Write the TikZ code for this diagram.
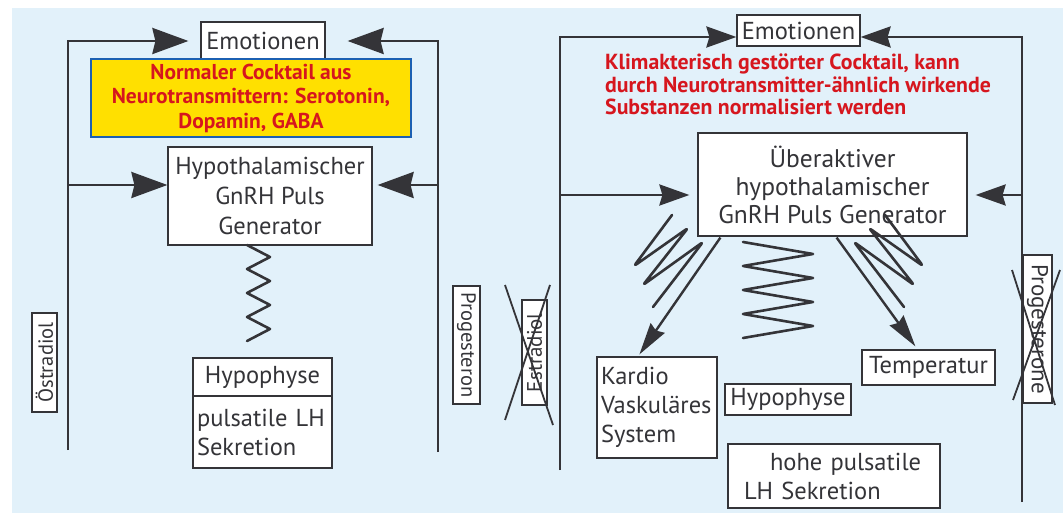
\documentclass[tikz,border=0pt]{standalone}
\usepackage{fontspec}
\setmainfont{PT Sans}
\usetikzlibrary{arrows.meta}

\definecolor{hintergrund}{RGB}{226,241,250}
\definecolor{linie}{RGB}{52,52,56}
\definecolor{rot}{RGB}{214,22,30}
\definecolor{gelb}{RGB}{255,224,0}
\definecolor{blau}{RGB}{28,96,178}

\tikzset{
	kasten/.style={draw=linie, fill=white, line width=1.2pt, text=linie, inner sep=0pt,
		font=\fontsize{24.5}{29}\selectfont},
	senk/.style={font=\fontsize{20.5}{20.5}\selectfont},
	rueck/.style={draw=linie, line width=2.8pt},
	pfeil/.style={rueck, -{Stealth[length=36pt,width=26pt,inset=3pt]}},
	pfeilR/.style={rueck, -{Stealth[length=30pt,width=21pt,inset=3pt]}},
	schraeg/.style={draw=linie, line width=2.4pt, -{Stealth[length=32pt,width=17pt,inset=3pt]}},
	feder/.style={draw=linie, line width=2.6pt, line join=round, line cap=round},
	kreuz/.style={draw=linie, line width=1.8pt},
	hinweis/.style={text=rot, inner sep=0pt, font=\bfseries\fontsize{21.8}{22.5}\selectfont}
}

\begin{document}
\begin{tikzpicture}[x=1pt, y=-1pt]
\useasboundingbox (0,0) rectangle (1063,518);
\fill[hintergrund] (12,8) rectangle (1063,513);

%% linkes Schema: normal %%
\node[kasten, minimum width=124pt, minimum height=38pt] (emoL) at (263,41) {Emotionen};
\node[draw=blau, fill=gelb, line width=2.5pt, minimum width=320pt, minimum height=78pt,
	inner sep=0pt, align=center, text=rot, font=\bfseries\fontsize{21.5}{24.5}\selectfont]
	(cocktailL) at (251,98) {Normaler Cocktail aus\\Neurotransmittern: Serotonin,\\Dopamin, GABA};
\node[kasten, minimum width=204pt, minimum height=98pt, align=center,
	font=\fontsize{24.5}{30}\selectfont] (hypoL) at (270,196)
	{Hypothalamischer\\GnRH Puls\\Generator};
\node[kasten, minimum width=139pt, minimum height=38pt] (hypophL) at (262.5,377) {Hypophyse};
\node[kasten, minimum width=139pt, minimum height=72pt, text width=131pt, align=left]
	(lhL) at (262.5,432) {pulsatile LH\\Sekretion};
\node[kasten, senk, rotate=90, minimum width=99pt, minimum height=25pt] (oestr) at (44.5,362.5) {Östradiol};
\node[kasten, senk, rotate=-90, minimum width=118pt, minimum height=27pt] (progL) at (466.5,345) {Progesteron};

\coordinate (oestrUnten) at (68,450);
\coordinate (oestrOben) at (68,41);
\coordinate (oestrMitte) at (68,185);
\coordinate (progLUnten) at (438,452);
\coordinate (progLOben) at (438,41);
\coordinate (progLMitte) at (438,185);
\draw[pfeil, shorten >=12pt] (oestrUnten) -- (oestrOben) -- (oestrOben -| emoL.west);
\draw[pfeil, shorten >=22pt] (progLUnten) -- (progLOben) -- (progLOben -| emoL.east);
\draw[pfeil] (oestrMitte) -- (oestrMitte -| hypoL.west);
\draw[pfeil, shorten >=5pt] (progLMitte) -- (progLMitte -| hypoL.east);

% Puls
\draw[feder] (247,245) \foreach \i in {1,...,4} { -- ++(23,12) -- ++(-23,12) };

%% rechtes Schema: Klimakterium %%
\node[kasten, minimum width=123pt, minimum height=31pt] (emoR) at (798.5,30.5) {Emotionen};
\node[hinweis, anchor=north west, align=left] (cocktailR) at (605,54)
	{Klimakterisch gestörter Cocktail, kann\\durch Neurotransmitter-ähnlich wirkende\\Substanzen normalisiert werden};
\node[kasten, minimum width=269pt, minimum height=103pt, align=center,
	font=\fontsize{25.5}{28}\selectfont] (ueberR) at (832.5,184.5)
	{Überaktiver\\hypothalamischer\\GnRH Puls Generator};
\node[kasten, minimum width=120pt, minimum height=101pt, text width=112pt, align=left]
	(kardio) at (657,407.5) {Kardio\\Vaskuläres\\System};
\node[kasten, minimum width=126pt, minimum height=31pt] (hypophR) at (788,399.5) {Hypophyse};
\node[kasten, minimum width=133pt, minimum height=35pt] (temp) at (928.5,367.5) {Temperatur};
\node[kasten, minimum width=212pt, minimum height=64pt, text width=180pt, align=left]
	(hohe) at (834,476) {\hspace*{26pt}hohe pulsatile\\LH Sekretion};
\node[kasten, rotate=90, minimum width=105pt, minimum height=25pt,
	font=\fontsize{21}{21}\selectfont] (estr) at (534.5,352.5) {Estradiol};
\node[kasten, rotate=-90, minimum width=148pt, minimum height=29pt,
	font=\fontsize{23}{23}\selectfont] (progR) at (1037.5,329) {Progesterone};

\coordinate (estrUnten) at (560,470);
\coordinate (estrOben) at (560,37);
\coordinate (estrMitte) at (560,195);
\coordinate (progRUnten) at (1022,502);
\coordinate (progROben) at (1022,37);
\coordinate (progRMitte) at (1022,195);
\draw[pfeilR] (estrUnten) -- (estrOben) -- (estrOben -| emoR.west);
\draw[pfeilR] (progRUnten) -- (progROben) -- (progROben -| emoR.east);
\draw[pfeilR, shorten >=8pt] (estrMitte) -- (estrMitte -| ueberR.west);
\draw[pfeilR, shorten >=8pt] (progRMitte) -- (progRMitte -| ueberR.east);

\draw[schraeg] ([xshift=23pt,yshift=-1pt]ueberR.south west) -- ([xshift=43pt,yshift=2pt]kardio.north west);
\draw[schraeg] ([xshift=-131pt,yshift=-1pt]ueberR.south east) -- ([xshift=54pt,yshift=3pt]temp.north west);

% Pulse
\draw[feder] (743,242) \foreach \i in {1,...,4} { -- ++(70,12) -- ++(-70,12) };
\draw[feder, rounded corners=3pt] (672,215) -- (634,266) -- (688,228) -- (643,285) -- (703,242) -- (653,307);
\draw[feder, rounded corners=3pt] (885,215) -- (923,266) -- (869,228) -- (914,285) -- (854,242) -- (904,307);

% gestrichen
\draw[kreuz] (505,285) -- (553,425) (550,285) -- (505,420);
\draw[kreuz] (1012,270) -- (1055,405) (1060,270) -- (1013,400);
\end{tikzpicture}
\end{document}
